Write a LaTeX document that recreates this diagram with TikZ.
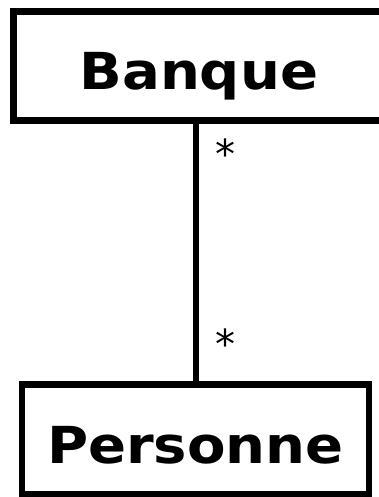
\documentclass[tikz,border=0pt]{standalone}
\usepackage{fontspec}
\setmainfont{DejaVu Sans}
\usepackage{graphicx}
\newcommand{\cname}[1]{\scalebox{1.1}[1]{\bfseries #1}}

\begin{document}
\begin{tikzpicture}[x=1pt, y=-1pt]
\useasboundingbox (0,0) rectangle (378,497);

%% ── Classes ──────────────────────────────────────────────────────────────────
\tikzset{
  classbox/.style={draw=black, fill=white, line width=6.5pt,
    inner sep=0pt, text height=48pt, text depth=0pt,
    font=\fontsize{51}{56}\selectfont},
  mult/.style={font=\fontsize{40}{44}\selectfont, inner sep=0pt}
}
\node[classbox, minimum width=370.5pt, minimum height=109pt] (banque)
  at (198.75,66) {\cname{Banque}};
\node[classbox, minimum width=347pt, minimum height=109.5pt] (personne)
  at (195.5,439.25) {\cname{Personne}};

%% ── Association ──────────────────────────────────────────────────────────────
\draw[line width=6pt] (personne.north |- banque.south) -- (personne.north)
  node[mult, pos=0.115, xshift=29.5pt] (m1) {*}
  node[mult, pos=0.854, xshift=29.5pt] (m2) {*};

\end{tikzpicture}
\end{document}
